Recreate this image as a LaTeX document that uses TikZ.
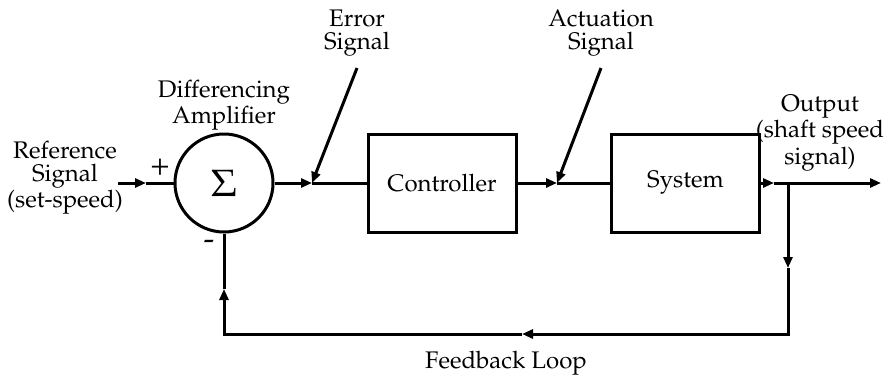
\documentclass[tikz,border=0pt]{standalone}
\usepackage[T1]{fontenc}
\usepackage{mathpazo}
\usepackage{tikz}
\usetikzlibrary{positioning, arrows.meta}
\tikzset{
    sigline/.style={line width=1.5pt},
    sigtip/.style={sigline, -{Triangle[length=5.5pt,width=4.5pt]}},
    blockbox/.style={draw, sigline, rectangle, minimum width=74pt, minimum height=49pt, font=\fontsize{12}{11.5}\selectfont},
    sumnode/.style={draw, sigline, circle, minimum size=49pt, inner sep=0pt, font=\fontsize{19}{20}\selectfont},
    lbl/.style={align=center, inner sep=0pt, font=\fontsize{12}{11.5}\selectfont},
    signlbl/.style={inner sep=0pt, font=\fontsize{16}{16}\selectfont}
}

\begin{document}
\begin{tikzpicture}[x=0.5pt, y=-0.5pt]
    \useasboundingbox (0,0) rectangle (885,376);

    % Blocks
    \node[sumnode] (sum) at (224,183) {$\Sigma$};
    \node[blockbox] (ctrl) at (442,183) {Controller};
    \node[blockbox] (sys) at (685.5,183) {System};

    % Points on the signal lines
    \coordinate (ref) at (118,183);
    \coordinate (refm) at (146,183);
    \coordinate (errm) at (312,183);
    \coordinate (actm) at (557,183);
    \coordinate (outm) at (774,183);
    \coordinate (tap) at (788,183);
    \coordinate (out) at (881,183);
    \coordinate (fbdown) at (788,268);
    \coordinate (fbr) at (788,334);
    \coordinate (fbm) at (522,334);
    \coordinate (fbl) at (224,334);
    \coordinate (fbup) at (224,289);
    \coordinate (errtop) at (357,68);
    \coordinate (acttop) at (601,68);

    % Forward path
    \draw[sigtip] (ref) -- (refm);
    \draw[sigline] (refm) -- (sum.west);
    \draw[sigtip] (sum.east) -- (errm);
    \draw[sigline] (errm) -- (ctrl.west);
    \draw[sigtip] (ctrl.east) -- (actm);
    \draw[sigline] (actm) -- (sys.west);
    \draw[sigtip] (sys.east) -- (outm);
    \draw[sigtip] (outm) -- (out);

    % Feedback path
    \draw[sigtip] (tap) -- (fbdown);
    \draw[sigtip] (fbdown) -- (fbr) -- (fbm);
    \draw[sigtip] (fbm) -- (fbl) -- (fbup);
    \draw[sigline] (fbup) -- (sum.south);

    % Pointers
    \draw[sigtip] (errtop) -- (errm);
    \draw[sigtip] (acttop) -- (actm);

    % Labels
    \node[lbl] (reflbl) at (65,178) {Reference\\Signal\\(set-speed)};
    \node[signlbl] (plus) at (160,167) {+};
    \node[signlbl] (minus) at (209,245) {-};
    \node[lbl] (amplbl) at (224,105) {Differencing\\Amplifier};
    \node[lbl] (errlbl) at (357,33) {Error\\Signal};
    \node[lbl] (actlbl) at (601,33) {Actuation\\Signal};
    \node[lbl] (outlbl) at (820,133) {Output\\(shaft speed\\signal)};
    \node[lbl] (fblbl) at (506,363) {Feedback Loop};
\end{tikzpicture}
\end{document}
